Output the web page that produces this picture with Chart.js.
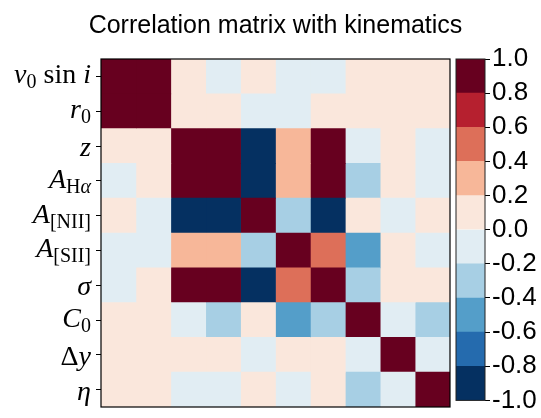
<!DOCTYPE html>
<html>
<head>
<meta charset="utf-8">
<script src="https://cdn.jsdelivr.net/npm/chart.js@4"></script>
<style>
  body { margin: 0; background: #fff; }
  #wrap { position: relative; width: 541px; height: 418px; }
  canvas { position: absolute; top: 0; }
</style>
</head>
<body>
<div id="wrap">
  <canvas id="chart" width="541" height="418" style="left:0"></canvas>
  <canvas id="cbar" width="87" height="418" style="left:454px"></canvas>
</div>
<script>
  var title = 'Correlation matrix with kinematics';

  // variable names (category axis) and their math-ish labels
  var variables = ['v0 sin i', 'r0', 'z', 'AHα', 'A[NII]', 'A[SII]', 'σ', 'C0', 'Δy', 'η'];
  // *...* = italic, _{...} = subscript
  var varLabels = ['*v*_{0} sin *i*', '*r*_{0}', '*z*', '*A*_{H*α*}', '*A*_{[NII]}',
                   '*A*_{[SII]}', '*σ*', '*C*_{0}', 'Δ*y*', '*η*'];

  // correlation matrix (rows top to bottom, columns left to right)
  var corr = [
    [ 1.00,  0.95,  0.10, -0.10,  0.10, -0.10, -0.10,  0.10,  0.10,  0.10],
    [ 0.95,  1.00,  0.10,  0.10, -0.10, -0.10,  0.10,  0.10,  0.10,  0.10],
    [ 0.10,  0.10,  1.00,  0.95, -0.95,  0.30,  0.95, -0.10,  0.10, -0.10],
    [-0.10,  0.10,  0.95,  1.00, -0.95,  0.30,  0.95, -0.30,  0.10, -0.10],
    [ 0.10, -0.10, -0.95, -0.95,  1.00, -0.30, -0.95,  0.10, -0.10,  0.10],
    [-0.10, -0.10,  0.30,  0.30, -0.30,  1.00,  0.50, -0.50,  0.10, -0.10],
    [-0.10,  0.10,  0.95,  0.95, -0.95,  0.50,  1.00, -0.30,  0.10,  0.10],
    [ 0.10,  0.10, -0.10, -0.30,  0.10, -0.50, -0.30,  1.00, -0.10, -0.30],
    [ 0.10,  0.10,  0.10,  0.10, -0.10,  0.10,  0.10, -0.10,  1.00, -0.10],
    [ 0.10,  0.10, -0.10, -0.10,  0.10, -0.10,  0.10, -0.30, -0.10,  1.00]
  ];

  // discrete RdBu_r, 10 levels from -1 to 1
  var binEdges = [-1.0, -0.8, -0.6, -0.4, -0.2, 0.0, 0.2, 0.4, 0.6, 0.8, 1.0];
  var binColors = ['#053061', '#256bae', '#549ec9', '#a7cfe4', '#e1edf3',
                   '#fae7dc', '#f7b799', '#dd6f59', '#b6202f', '#67001f'];

  var colorFor = function (v) {
    var k = Math.floor((v + 1) / 0.2);
    if (k > 9) k = 9;
    if (k < 0) k = 0;
    return binColors[k];
  };

  // tiny markup parser for the row labels
  var parseLabel = function (s) {
    var segs = [], italic = false, sub = false, cur = '';
    var push = function () {
      if (cur) segs.push({ text: cur, italic: italic, sub: sub });
      cur = '';
    };
    for (var i = 0; i < s.length; i++) {
      var c = s[i];
      if (c === '*') { push(); italic = !italic; }
      else if (c === '_' && s[i + 1] === '{') { push(); sub = true; i++; }
      else if (c === '}' && sub) { push(); sub = false; }
      else cur += c;
    }
    push();
    return segs;
  };

  var frame = {
    id: 'frame',
    afterDraw: function (chart, args, opts) {
      var a = chart.chartArea, ctx = chart.ctx;
      ctx.save();
      ctx.strokeStyle = opts.color || '#000';
      ctx.lineWidth = opts.width || 1.2;
      ctx.strokeRect(a.left, a.top, a.right - a.left, a.bottom - a.top);
      ctx.restore();
    }
  };

  // title centred over the whole figure (matrix + colorbar)
  var titlePlugin = {
    id: 'figTitle',
    afterDraw: function (chart) {
      var ctx = chart.ctx;
      ctx.save();
      ctx.fillStyle = '#000';
      ctx.font = '25px "Liberation Sans", sans-serif';
      ctx.textAlign = 'center';
      ctx.textBaseline = 'alphabetic';
      ctx.fillText(title, 275.5, 33);
      ctx.restore();
    }
  };

  var rowLabelsPlugin = {
    id: 'rowLabels',
    afterDraw: function (chart) {
      var ctx = chart.ctx, y = chart.scales.y;
      var fontOf = function (seg) {
        return (seg.italic ? 'italic ' : '') + (seg.sub ? '20px' : '28px') + ' "Liberation Serif", serif';
      };
      ctx.save();
      ctx.fillStyle = '#000';
      ctx.textBaseline = 'alphabetic';
      varLabels.forEach(function (lab, i) {
        var segs = parseLabel(lab);
        var hasSub = segs.some(function (s) { return s.sub; });
        var total = 0;
        segs.forEach(function (s) { ctx.font = fontOf(s); s.w = ctx.measureText(s.text).width; total += s.w; });
        var x = 91 - total;
        var base = y.getPixelForValue(i) + (hasSub ? 7 : 10);
        segs.forEach(function (s) {
          ctx.font = fontOf(s);
          ctx.fillText(s.text, x, base + (s.sub ? 5 : 0));
          x += s.w;
        });
      });
      ctx.restore();
    }
  };

  // one floating bar dataset per matrix column
  var datasets = variables.map(function (_, j) {
    return {
      data: variables.map(function () { return [j, j + 1]; }),
      backgroundColor: variables.map(function (_, i) { return colorFor(corr[i][j]); }),
      borderWidth: 0,
      barPercentage: 1,
      categoryPercentage: 1,
      grouped: false
    };
  });

  new Chart(document.getElementById('chart').getContext('2d'), {
    type: 'bar',
    data: { labels: variables, datasets: datasets },
    options: {
      responsive: false,
      animation: false,
      indexAxis: 'y',
      layout: { padding: { left: 10, right: 91, top: 59, bottom: 11 } },
      scales: {
        x: { type: 'linear', min: 0, max: 10, display: false },
        y: {
          type: 'category',
          offset: true,
          border: { display: false },
          grid: { offset: false, drawOnChartArea: false, drawTicks: true, tickLength: 5, color: '#000', lineWidth: 1 },
          ticks: { display: false },
          afterFit: function (s) { s.width = 91; }
        }
      },
      plugins: {
        legend: { display: false },
        tooltip: { enabled: false },
        title: { display: false },
        frame: { color: '#000', width: 1.2 }
      }
    },
    plugins: [frame, titlePlugin, rowLabelsPlugin]
  });

  // colorbar: one floating bar per level
  var cbarSets = binColors.map(function (c, k) {
    return {
      data: [[binEdges[k], binEdges[k + 1]]],
      backgroundColor: c,
      borderWidth: 0,
      barPercentage: 1,
      categoryPercentage: 1,
      grouped: false
    };
  });

  new Chart(document.getElementById('cbar').getContext('2d'), {
    type: 'bar',
    data: { labels: [''], datasets: cbarSets },
    options: {
      responsive: false,
      animation: false,
      layout: { padding: { left: 2, right: 0, top: 59, bottom: 11 } },
      scales: {
        x: { display: false },
        y: {
          type: 'linear',
          position: 'right',
          min: -1,
          max: 1,
          border: { display: false },
          grid: { drawOnChartArea: false, drawTicks: true, tickLength: 5, color: '#000' },
          ticks: {
            stepSize: 0.2,
            padding: 2,
            color: '#000',
            font: { family: '"Liberation Sans", sans-serif', size: 26 },
            callback: function (v) { return Math.abs(v) < 1e-9 ? '0.0' : v.toFixed(1); }
          },
          afterFit: function (s) { s.width = 56; }
        }
      },
      plugins: {
        legend: { display: false },
        tooltip: { enabled: false },
        frame: { color: '#222', width: 1 }
      }
    },
    plugins: [frame]
  });
</script>
</body>
</html>
